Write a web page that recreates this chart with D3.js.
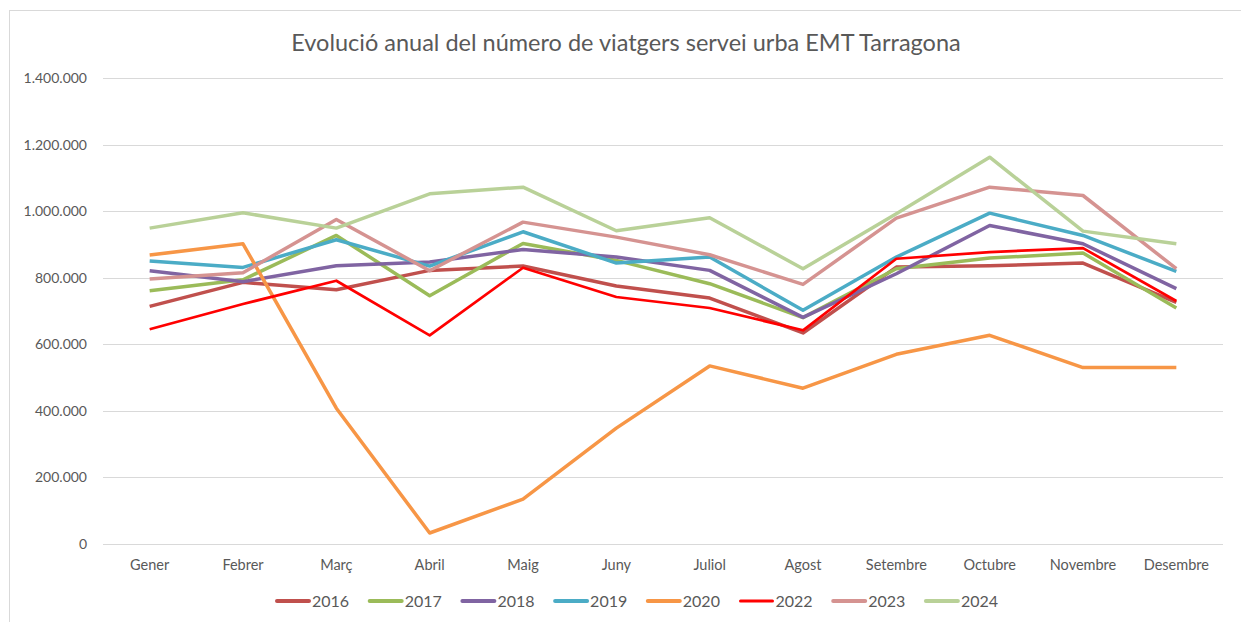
<!DOCTYPE html>
<html>
<head>
<meta charset="utf-8">
<script src="https://cdn.jsdelivr.net/npm/d3@7"></script>
<style>
  html, body { margin: 0; padding: 0; background: #fff; overflow: hidden; }
  svg { display: block; font-family: Lato, "Open Sans", sans-serif; }
</style>
</head>
<body>
<div id="viz"></div>
<script>
'use strict';

const months = ['Gener', 'Febrer', 'Març', 'Abril', 'Maig', 'Juny',
  'Juliol', 'Agost', 'Setembre', 'Octubre', 'Novembre', 'Desembre'];

const yearNames = ['2016', '2017', '2018', '2019', '2020', '2022', '2023', '2024'];
const yearColors = ['#c0504d', '#9bbb59', '#8064a2', '#4bacc6', '#f79646',
  '#ff0000', '#d59391', '#b9d198'];

const y2016 = [714000, 786000, 764000, 822000, 835000, 775000, 739000, 634000, 832000, 836000, 844000, 726000];
const y2017 = [761000, 794000, 927000, 746000, 903000, 852000, 782000, 680000, 827000, 859000, 874000, 709000];
const y2018 = [821000, 788000, 836000, 847000, 885000, 862000, 822000, 681000, 812000, 957000, 902000, 767000];
const y2019 = [850000, 831000, 914000, 835000, 938000, 844000, 862000, 702000, 862000, 994000, 927000, 819000];
const y2020 = [868000, 902000, 408000, 33000, 135000, 348000, 535000, 468000, 570000, 627000, 530000, 530000];
const y2022 = [645000, 721000, 791000, 627000, 830000, 742000, 709000, 642000, 857000, 877000, 889000, 730000];
const y2023 = [796000, 815000, 975000, 821000, 967000, 922000, 869000, 780000, 979000, 1072000, 1047000, 827000];
const y2024 = [949000, 995000, 949000, 1052000, 1072000, 941000, 980000, 827000, 992000, 1162000, 940000, 902000];

const yTicks = [0, 200000, 400000, 600000, 800000, 1000000, 1200000, 1400000];

const seriesValues = [y2016, y2017, y2018, y2019, y2020, y2022, y2023, y2024];

const W = 1241;
const H = 622;
const margin = {top: 78, right: 18, bottom: 78, left: 103};
const width = W - margin.left - margin.right;
const height = H - margin.top - margin.bottom;

const fmt = d3.formatLocale({decimal: ',', thousands: '.', grouping: [3], currency: ['', '€']}).format(',d');

const svg = d3.select('#viz')
  .append('svg')
    .attr('width', W)
    .attr('height', H);

// chart frame
svg.append('rect')
  .attr('x', 9.5)
  .attr('y', 10.5)
  .attr('width', 1300)
  .attr('height', 700)
  .attr('fill', 'none')
  .attr('stroke', '#d9d9d9')
  .attr('stroke-width', 1);

svg.append('text')
  .attr('x', 626)
  .attr('y', 51)
  .attr('text-anchor', 'middle')
  .attr('fill', '#595959')
  .style('font-size', '23.5px')
  .text('Evolució anual del número de viatgers servei urba EMT Tarragona');

const g = svg.append('g')
  .attr('transform', `translate(${margin.left},${margin.top})`);

const x = d3.scaleBand()
  .domain(months)
  .range([0, width]);

const y = d3.scaleLinear()
  .domain([0, 1400000])
  .range([height, 0]);

// horizontal grid
g.append('g')
  .selectAll('line')
  .data(yTicks)
  .join('line')
    .attr('x1', 0)
    .attr('x2', width)
    .attr('y1', d => Math.round(y(d)) + 0.5)
    .attr('y2', d => Math.round(y(d)) + 0.5)
    .attr('stroke', '#d9d9d9')
    .attr('stroke-width', 1.2);

const yAxis = g.append('g')
  .call(d3.axisLeft(y).tickValues(yTicks).tickFormat(fmt).tickSize(0).tickPadding(16));
yAxis.select('.domain').remove();
yAxis.selectAll('text')
  .attr('fill', '#595959')
  .style('font-size', '14px')
  .style('font-family', 'Lato, "Open Sans", sans-serif');

const xAxis = g.append('g')
  .attr('transform', `translate(0,${height})`)
  .call(d3.axisBottom(x).tickSize(0).tickPadding(16));
xAxis.select('.domain').remove();
xAxis.selectAll('text')
  .attr('fill', '#595959')
  .style('font-size', '14.5px')
  .style('font-family', 'Lato, "Open Sans", sans-serif');

const line = d3.line()
  .x((d, i) => x(months[i]) + x.bandwidth() / 2)
  .y(d => y(d));

seriesValues.forEach((vals, k) => {
  g.append('path')
    .datum(vals)
    .attr('fill', 'none')
    .attr('stroke', yearColors[k])
    .attr('stroke-width', yearNames[k] === '2022' ? 2.7 : 3.5)
    .attr('stroke-linejoin', 'round')
    .attr('d', line);
});

// legend
const legend = svg.append('g')
  .attr('transform', 'translate(277,601)');

const item = legend.selectAll('g')
  .data(yearNames)
  .join('g')
    .attr('transform', (d, i) => `translate(${i * 92.7},0)`);

item.append('line')
  .attr('x1', 0)
  .attr('x2', 32)
  .attr('y1', 0)
  .attr('y2', 0)
  .attr('stroke', (d, i) => yearColors[i])
  .attr('stroke-width', (d, i) => d === '2022' ? 3 : 4)
  .attr('stroke-linecap', 'round');

item.append('text')
  .attr('x', 35)
  .attr('y', 5.5)
  .attr('fill', '#595959')
  .style('font-size', '16px')
  .text(d => d);
</script>
</body>
</html>
